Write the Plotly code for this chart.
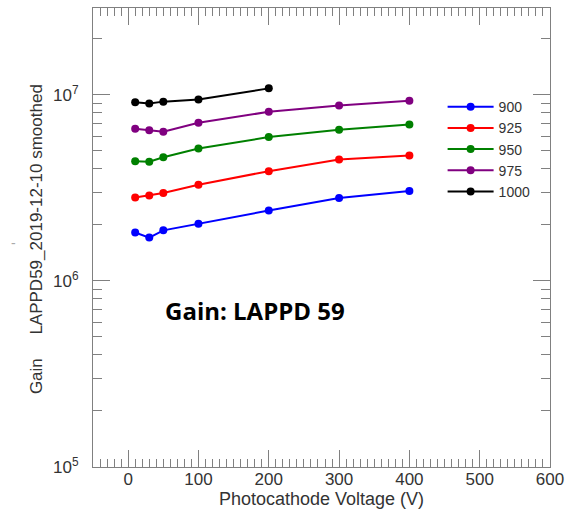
import plotly.graph_objects as go

# Photocathode voltage (V)
voltage = [10, 30, 50, 100, 200, 300, 400]
voltage_1000 = [10, 30, 50, 100, 200]

# Gain per MCP voltage setting
gain_900 = [1.82e6, 1.71e6, 1.87e6, 2.03e6, 2.39e6, 2.79e6, 3.04e6]
gain_925 = [2.81e6, 2.88e6, 2.97e6, 3.29e6, 3.89e6, 4.50e6, 4.72e6]
gain_950 = [4.40e6, 4.37e6, 4.62e6, 5.15e6, 5.93e6, 6.49e6, 6.93e6]
gain_975 = [6.58e6, 6.46e6, 6.33e6, 7.08e6, 8.11e6, 8.77e6, 9.29e6]
gain_1000 = [9.12e6, 8.98e6, 9.20e6, 9.44e6, 1.084e7]

series = [
    ("900", voltage, gain_900, "#0000ff"),
    ("925", voltage, gain_925, "#ff0000"),
    ("950", voltage, gain_950, "#008000"),
    ("975", voltage, gain_975, "#800080"),
    ("1000", voltage_1000, gain_1000, "#000000"),
]

y_major = [1e5, 1e6, 1e7]
y_major_text = ["10<sup>5</sup>", "10<sup>6</sup>", "10<sup>7</sup>"]
y_minor = [m * 10 ** e for e in (5, 6, 7) for m in range(2, 10) if m * 10 ** e < 2.9e7]

fig = go.Figure()
for name, xs, ys, col in series:
    fig.add_trace(go.Scatter(
        x=xs, y=ys, name=name, mode="lines+markers",
        line=dict(color=col, width=2),
        marker=dict(color=col, size=8),
    ))

axis_col = "#808080"
font_col = "#333333"

fig.update_layout(
    width=571, height=514,
    margin=dict(l=93, r=14, t=7, b=47, pad=0),
    paper_bgcolor="white", plot_bgcolor="white",
    font=dict(family="Liberation Sans, Arial, sans-serif", size=16, color=font_col),
    showlegend=True,
    legend=dict(
        x=0.765, xanchor="left", y=0.819, yanchor="top",
        font=dict(size=14, color=font_col), itemwidth=46,
        bgcolor="rgba(0,0,0,0)", tracegroupgap=0,
    ),
    xaxis=dict(
        range=[-50, 600], tick0=0, dtick=100,
        showline=True, linecolor=axis_col, linewidth=1, mirror="ticks",
        ticks="inside", ticklen=17, tickcolor=axis_col, tickwidth=1,
        minor=dict(dtick=10, ticks="inside", ticklen=8, tickcolor=axis_col, tickwidth=1),
        showgrid=False, zeroline=False,
        title=dict(text="Photocathode Voltage (V)", standoff=2, font=dict(size=18, color=font_col)),
        tickfont=dict(size=17, color=font_col),
        ticklabeloverflow="allow",
        ticklabelstandoff=-3,
    ),
    yaxis=dict(
        type="log", range=[5, 7.467],
        tickmode="array", tickvals=y_major, ticktext=y_major_text,
        showline=True, linecolor=axis_col, linewidth=1, mirror="ticks",
        ticks="inside", ticklen=17, tickcolor=axis_col, tickwidth=1,
        minor=dict(tickmode="array", tickvals=y_minor, ticks="inside", ticklen=9,
                   tickcolor=axis_col, tickwidth=1),
        showgrid=False, zeroline=False,
        tickfont=dict(size=17, color=font_col),
        ticklabelstandoff=10,
    ),
)

gap = "\u00a0" * 5
fig.add_annotation(
    xref="paper", yref="paper", x=-0.122, y=0.497, xanchor="center", yanchor="middle",
    text="Gain" + gap + "LAPPD59_2019-12-10 smoothed", textangle=-90, showarrow=False,
    font=dict(size=17, color=font_col),
)
fig.add_annotation(
    xref="paper", yref="paper", x=-0.175, y=0.489, xanchor="center", yanchor="middle",
    text="-", showarrow=False,
    font=dict(size=14, color="#aaaaaa"),
)
fig.add_annotation(
    xref="paper", yref="paper", x=0.354, y=0.342, xanchor="center", yanchor="middle",
    text="<b>Gain: LAPPD 59</b>", showarrow=False,
    font=dict(family="Open Sans, Liberation Sans, sans-serif", size=24, color="black"),
)

fig.write_html(
    "out.html",
    config={"displayModeBar": False},
    post_script="document.body.style.margin='0';",
)
